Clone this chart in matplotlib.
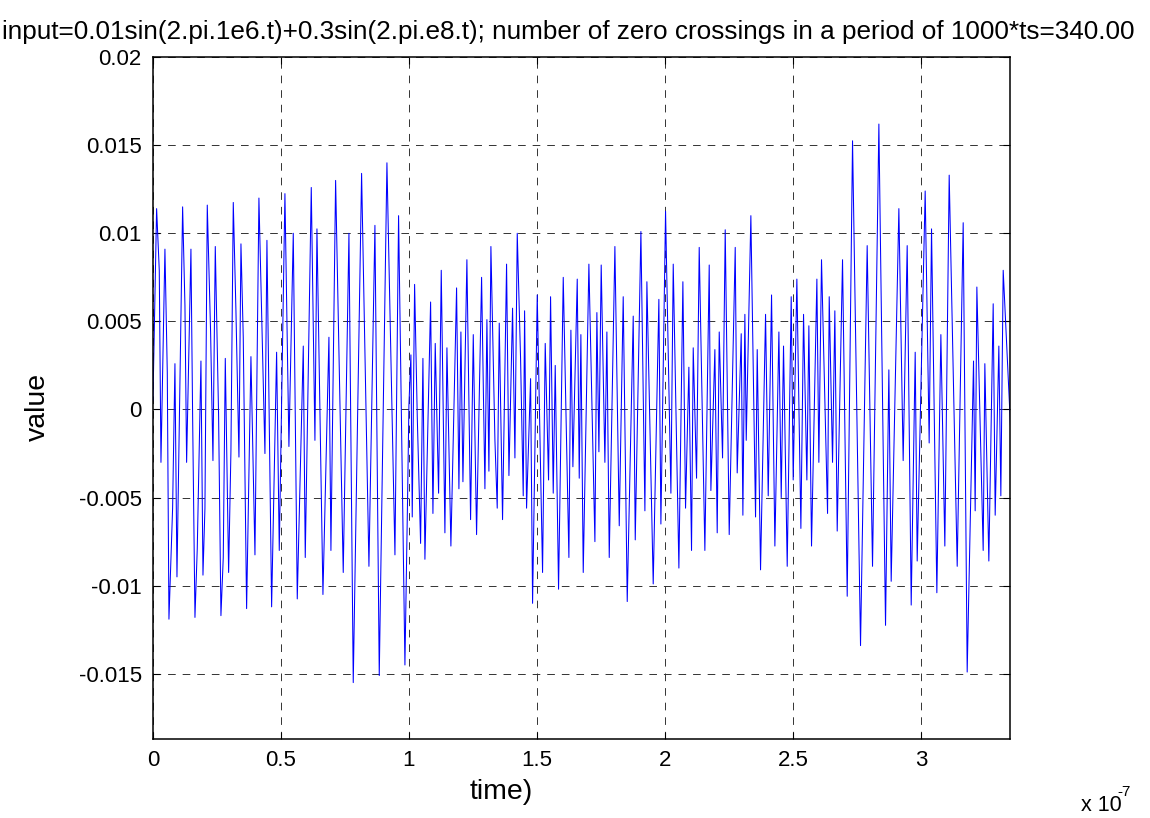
import numpy as np
import matplotlib.pyplot as plt
from matplotlib.ticker import FormatStrFormatter

plt.rcParams['font.family'] = ['Liberation Sans', 'DejaVu Sans']
plt.rcParams['axes.unicode_minus'] = False
plt.rcParams['lines.scale_dashes'] = False

title_text = ('input=0.01sin(2.pi.1e6.t)+0.3sin(2.pi.e8.t); '
              'number of zero crossings in a period of 1000*ts=340.00')

# time in units of 1e-7 s (peaks, troughs and kinks)
t_e7 = [0.0, 0.0143, 0.0247, 0.0313, 0.0468, 0.0560, 0.0625, 0.0768, 0.0859, 0.0938,
        0.1159, 0.1250, 0.1315, 0.1484, 0.1550, 0.1641, 0.1731, 0.1875, 0.1954, 0.2031,
        0.2122, 0.2252, 0.2344, 0.2435, 0.2565, 0.2656, 0.2747, 0.2826, 0.2956, 0.3046,
        0.3138, 0.3242, 0.3360, 0.3438, 0.3528, 0.3659, 0.3828, 0.3985, 0.4140, 0.4375,
        0.4453, 0.4636, 0.4831, 0.4935, 0.5156, 0.5312, 0.5482, 0.5638, 0.5873, 0.5950,
        0.6185, 0.6328, 0.6407, 0.6641, 0.6875, 0.6953, 0.7136, 0.7434, 0.7657, 0.7825,
        0.8151, 0.8438, 0.8672, 0.8841, 0.9141, 0.9454, 0.9596, 0.9844,
        0.9948, 1.0000, 1.0078, 1.0130, 1.0222, 1.0326, 1.0456, 1.0547, 1.0625, 1.0847,
        1.0938, 1.1028, 1.1159, 1.1263, 1.1406, 1.1485, 1.1640, 1.1862, 1.1953, 1.2031,
        1.2110, 1.2265, 1.2409, 1.2514, 1.2643, 1.2839, 1.2969, 1.3047, 1.3125, 1.3203,
        1.3360, 1.3450, 1.3529, 1.3658, 1.3815, 1.3907, 1.4049, 1.4141, 1.4232, 1.4362,
        1.4466, 1.4519, 1.4596, 1.4753, 1.4831, 1.5013, 1.5221, 1.5325, 1.5455, 1.5534,
        1.5638, 1.5716, 1.5846, 1.6029, 1.6250, 1.6328, 1.6406, 1.6576, 1.6654,
        1.6718, 1.6810, 1.7031, 1.7266, 1.7343, 1.7422, 1.7512, 1.7656, 1.7734, 1.7826,
        1.8047, 1.8217, 1.8372, 1.8529, 1.8763, 1.8842, 1.9063, 1.9219, 1.9297, 1.9544,
        1.9765, 1.9844, 2.0026, 2.0235, 2.0326, 2.0547, 2.0703, 2.0807, 2.0937, 2.1041,
        2.1107, 2.1237, 2.1341, 2.1562, 2.1732, 2.1797, 2.1953, 2.2044, 2.2123, 2.2253,
        2.2357, 2.2513, 2.2748, 2.2825, 2.2982, 2.3047, 2.3125, 2.3178, 2.3359,
        2.3542, 2.3607, 2.3737, 2.3933, 2.4037, 2.4167, 2.4297, 2.4454, 2.4545, 2.4635,
        2.4779, 2.4935, 2.5013, 2.5156, 2.5313, 2.5417, 2.5547, 2.5625, 2.5729, 2.5938,
        2.6015, 2.6119, 2.6355, 2.6420, 2.6550, 2.6640, 2.6732, 2.6940, 2.7123, 2.7331,
        2.7643, 2.7903, 2.8112, 2.8360, 2.8620, 2.8750, 2.8841, 2.9141, 2.9309, 2.9466,
        2.9623, 2.9779, 2.9857, 3.0169, 3.0325, 3.0417, 3.0625, 3.0782, 3.0937, 3.1107,
        3.1420, 3.1654, 3.1810, 3.2058, 3.2122, 3.2188, 3.2435, 3.2500, 3.2656, 3.2826,
        3.2904, 3.3047, 3.3125, 3.3217, 3.3700]

# value in units of 1e-3
value_e3 = [0.5, 11.4, 7.9, -3.0, 9.1, 2.1, -11.9, -5.6, 2.6, -9.5,
            11.5, 5.9, -3.0, 9.1, -0.4, -11.8, -7.9, 2.75, -9.4, -5.6,
            11.6, 4.4, -2.9, 9.25, -0.4, -11.7, -8.4, 2.9, -9.25, -2.4,
            11.75, 5.6, -2.7, 9.4, 4.1, -11.3, 3.0, -8.25, 12.0, -2.5,
            9.6, -11.2, 3.25, -8.0, 12.25, -2.1, 10.0, -10.75, 3.6, -8.4,
            12.6, -1.75, 10.25, -10.5, 4.1, -8.0, 13.0, -9.25, 10.0, -15.5,
            13.4, -8.9, 10.45, -15.1, 14.0, -8.25, 11.0, -14.5,
            -5.0, 0.25, 3.1, -6.1, 7.1, -0.4, -7.6, 2.9, -8.5, 6.1,
            -5.9, 3.75, -4.75, 7.9, -7.0, 3.5, -7.75, 6.9, -4.5, 4.4,
            -4.1, 8.5, -6.25, 4.25, -7.1, 7.5, -4.5, 5.1, -3.5, 9.25,
            -1.75, -5.6, 4.9, -6.25, 8.25, -3.75, 5.75, -2.75, 10.0, 2.9,
            -4.9, 5.6, -5.6, 1.75, -11.0, 6.5, -9.25, 3.75, -4.0, 6.4,
            -4.75, 2.5, -10.2, 7.5, -8.4, 4.5, -3.25, 7.4, -3.9,
            4.25, -9.25, 8.25, -7.5, 5.5, -2.4, 8.2, -3.0, 4.4, -8.4,
            9.25, -6.6, 6.4, -10.9, 5.3, -7.4, 10.1, -5.75, 7.25, -9.9,
            6.25, -6.5, 11.25, -4.75, 8.25, -9.0, 7.25, -5.6, 2.4, -8.0,
            3.5, -3.9, 9.2, -8.0, 8.2, -4.6, 3.4, -7.0, 4.4, -2.75,
            10.2, -7.1, 9.2, -3.6, 4.3, -6.0, 5.4, -1.75, 11.0,
            -6.1, 3.4, -9.1, 5.4, -4.9, 6.5, -7.75, 4.4, -5.0, 3.6,
            -8.9, 6.4, -4.0, 7.4, -6.75, 5.4, -4.0, 4.75, -7.75, 7.4,
            -3.0, 8.5, -5.9, 6.4, -3.0, 5.6, -6.9, 8.5, -10.6, 15.25,
            -13.4, 9.3, -8.9, 16.2, -12.25, 2.25, -9.75, 11.4, -2.9, 9.3,
            -11.1, 3.25, -8.6, 12.4, -1.9, 10.25, -10.4, 4.25, -7.75, 13.3,
            -8.9, 10.6, -14.9, 2.75, -5.75, 6.95, -8.0, 2.6, -8.6, 6.0,
            -6.0, 3.6, -4.9, 7.9, -7.1]

x_ticks = [0, 0.5, 1, 1.5, 2, 2.5, 3]
y_ticks = [-0.015, -0.01, -0.005, 0, 0.005, 0.01, 0.015, 0.02]

t = np.array(t_e7)
v = np.array(value_e3) * 1e-3

fig = plt.figure(figsize=(11.5, 8.18), dpi=100)
ax = fig.add_axes([0.133, 0.0966, 0.7452, 0.8336])

ax.plot(t, v, color='#0000ff', linewidth=0.75)

ax.set_xlim(0, 3.348)
ax.set_ylim(-0.0187, 0.02)
ax.set_xticks(x_ticks)
ax.set_yticks(y_ticks)
ax.xaxis.set_major_formatter(FormatStrFormatter('%g'))
ax.yaxis.set_major_formatter(FormatStrFormatter('%g'))
ax.tick_params(direction='in', length=5, width=0.8, top=True, right=True,
               labelsize=16, pad=8)
for s in ax.spines.values():
    s.set_linewidth(1.1)
ax.grid(True, color='#333333', linestyle=(0, (5.5, 5)), linewidth=0.7)

fig.text(0.002, 0.952, title_text, fontsize=18.8, ha='left', va='baseline')
fig.text(0.033, 0.502, 'value', fontsize=20.5, rotation=90, ha='center', va='center')
fig.text(0.436, 0.032, 'time)', fontsize=20.5, ha='center', va='center')
fig.text(0.940, 0.009, 'x 10', fontsize=15.5, ha='left', va='baseline')
fig.text(0.972, 0.027, '-7', fontsize=11, ha='left', va='baseline')

fig.savefig('out.png', dpi=100)
